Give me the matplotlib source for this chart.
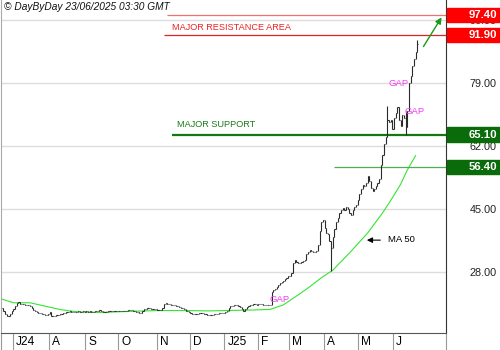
import numpy as np
import pandas as pd
import matplotlib
matplotlib.use('Agg')
import matplotlib.pyplot as plt
from matplotlib.patches import Rectangle
from matplotlib.transforms import blended_transform_factory

plt.rcParams['font.family'] = ['Liberation Sans', 'DejaVu Sans']

# exchange holidays inside the window
holidays = ['2024-07-04', '2024-09-02', '2024-11-28', '2024-12-25', '2025-01-01',
            '2025-01-09', '2025-01-20', '2025-02-17', '2025-04-18', '2025-05-26',
            '2025-06-19']

# daily closes, month by month
closes_jun24 = [18.3, 17.6, 16.8, 16.2, 16.1, 16.6, 17.4]
closes_jul24 = [18.0, 18.7, 19.6, 19.8, 19.5, 19.4, 19.3, 19.2, 19.1, 19.1, 18.7,
                18.3, 17.8, 17.5, 17.1, 16.9, 16.9, 16.8, 16.6, 16.4, 16.5, 16.8]
closes_aug24 = [17.3, 16.0, 16.1, 16.2, 16.3, 16.5, 16.6, 16.8, 16.9, 17.0, 17.1,
                17.3, 17.4, 17.3, 17.2, 17.3, 17.2, 17.4, 17.2, 17.3, 17.4, 17.3]
closes_sep24 = [17.4, 17.3, 17.5, 17.3, 17.2, 17.4, 17.6, 17.5, 17.7, 17.4,
                17.3, 17.2, 17.3, 17.4, 17.5, 17.6, 17.4, 17.5, 17.6, 17.5]
closes_oct24 = [17.4, 17.4, 17.5, 17.6, 17.6, 17.7, 17.7, 17.8, 17.6, 17.4, 17.2, 17.1,
                17.0, 17.0, 17.4, 17.9, 18.0, 18.2, 18.2, 18.1, 18.0, 17.9, 17.9]
closes_nov24 = [17.8, 17.8, 17.7, 18.4, 19.3, 19.6, 19.5, 19.3, 19.1, 19.2,
                19.0, 18.8, 18.9, 18.6, 18.4, 18.2, 17.9, 17.6, 17.4, 17.2]
closes_dec24 = [16.9, 16.8, 16.7, 16.7, 16.8, 16.9, 17.0, 16.9, 16.7, 16.6, 16.5,
                16.4, 16.4, 16.5, 16.6, 16.7, 16.8, 16.9, 16.9, 17.0, 17.0]
closes_jan25 = [17.1, 17.5, 18.2, 18.8, 18.9, 19.1, 19.2, 19.0, 18.8, 18.6,
                18.0, 17.6, 18.1, 18.6, 18.8, 19.0, 19.1, 19.3, 19.3, 19.2]
closes_feb25 = [19.3, 19.4, 19.3, 19.2, 19.1, 19.2, 19.1, 19.2, 22.6, 23.1,
                23.5, 24.0, 24.5, 25.0, 25.3, 25.6, 26.0, 26.4, 26.8]
closes_mar25 = [27.0, 27.6, 30.3, 31.2, 30.8, 30.3, 30.5, 30.8, 31.0, 31.3, 32.8,
                33.3, 33.9, 33.7, 33.5, 33.4, 33.6, 35.3, 39.0, 41.5, 42.0]
closes_apr25 = [40.0, 38.5, 38.2, 36.5, 34.5, 37.5, 39.5, 41.5, 42.5, 44.0, 44.7,
                45.2, 44.6, 45.6, 44.9, 43.8, 43.5, 44.6, 45.6, 46.0, 47.5]
closes_may25 = [49.0, 50.5, 51.5, 51.2, 52.0, 54.0, 52.5, 50.8, 49.8, 50.5, 51.2,
                52.0, 53.0, 57.0, 59.5, 62.5, 64.5, 69.0, 68.5, 69.0, 66.5]
closes_jun25 = [69.5, 71.0, 72.5, 69.0, 67.5, 70.5, 69.5, 67.0, 71.5, 79.0,
                81.0, 83.5, 85.5, 87.5, 89.5]

# intraday extremes on the bars with long wicks
wick_idx = [199, 233, 244, 251]
wick_low = [28.2, 65.5, 65.1, 88.5]
wick_high = [36.0, 72.9, 71.5, 90.6]

# 50 day moving average
ma_idx = [0, 7, 17, 23, 29, 35, 41, 47, 60, 78, 95, 111, 125, 135, 152, 162,
          170, 180, 186, 192, 200, 210, 221, 230, 236, 241, 245, 250]
ma_val = [20.7, 19.7, 19.7, 19.1, 18.5, 17.9, 17.5, 17.2, 17.1, 17.4, 17.6, 17.6,
          17.5, 17.6, 17.75, 17.9, 19.1, 22.1, 24.0, 26.1, 28.5, 33.1, 38.5, 43.9,
          48.0, 51.7, 55.5, 59.4]

month_labels = ['J24', 'A', 'S', 'O', 'N', 'D', 'J25', 'F', 'M', 'A', 'M', 'J']
price_ticks = [28, 45, 62, 79, 96]

resistance_hi = 97.40
resistance_lo = 91.90
support_major = 65.10
support_minor = 56.40

closes = np.array(closes_jun24 + closes_jul24 + closes_aug24 + closes_sep24 +
                  closes_oct24 + closes_nov24 + closes_dec24 + closes_jan25 +
                  closes_feb25 + closes_mar25 + closes_apr25 + closes_may25 +
                  closes_jun25)
dates = pd.bdate_range('2024-06-20', '2025-06-23', freq='C', holidays=holidays)
x = np.arange(len(closes))

fig = plt.figure(figsize=(5, 3.5), dpi=100)
ax = fig.add_axes([1 / 500, 17 / 350, 445 / 500, 333 / 350])
x_right = 268.4
ax.set_xlim(-0.5, x_right)
ax.set_ylim(11.54, 101.4)

# price bars: previous close to close, with the recorded wicks
prev = np.r_[closes[0], closes[:-1]]
lo = np.minimum(prev, closes)
hi = np.maximum(prev, closes)
for i, l, h in zip(wick_idx, wick_low, wick_high):
    lo[i] = min(lo[i], l)
    hi[i] = max(hi[i], h)
ax.vlines(x, lo, hi, color='#2a2a2a', lw=0.8, zorder=3)
ax.hlines(closes, x, x + 0.7, color='#2a2a2a', lw=0.8, zorder=3)

ax.plot(ma_idx, ma_val, color='#33e633', lw=0.8, zorder=2)

# resistance / support levels
ax.hlines(resistance_hi, 100, x_right, color='#f07070', lw=0.9, zorder=2)
ax.hlines(resistance_lo, 98, x_right, color='#dd2222', lw=0.9, zorder=2)
ax.hlines(support_major, 103, x_right, color='#107a10', lw=1.6, zorder=2)
ax.hlines(support_minor, 201, x_right, color='#55aa55', lw=0.9, zorder=2)

ax.text(103, 94.1, 'MAJOR RESISTANCE AREA', color='#ee2222', fontsize=6.6, va='center')
ax.text(106, 67.9, 'MAJOR SUPPORT', color='#1a7a1a', fontsize=6.6, va='center')

gap_color = '#f23cf2'
ax.text(162, 20.45, 'GAP', color=gap_color, fontsize=6.8, va='center')
ax.text(233.5, 79.0, 'GAP', color=gap_color, fontsize=6.8, va='center')
ax.text(243.5, 71.2, 'GAP', color=gap_color, fontsize=6.8, va='center')

ax.annotate('', xy=(266.6, 97.35), xytext=(253.9, 88.2),
            arrowprops=dict(arrowstyle='-|>', color='#1a9a1a', lw=1, mutation_scale=9))
ax.annotate('', xy=(218.9, 36.6), xytext=(230.4, 36.6),
            arrowprops=dict(arrowstyle='-|>', color='black', lw=0.8, mutation_scale=8))
ax.text(233.4, 36.9, 'MA 50', fontsize=6.8, va='center')

# grid and axes frame
ax.set_yticks(price_ticks)
ax.set_yticklabels([f'{t:.2f}' for t in price_ticks])
ax.yaxis.tick_right()
ax.tick_params(axis='y', length=0, pad=36.7, labelsize=7.8, labelcolor='#222222')
for lab in ax.get_yticklabels():
    lab.set_horizontalalignment('right')
ax.yaxis.grid(True, color='#dddddd', lw=1)
ax.set_axisbelow(True)

ax.spines['top'].set_visible(False)
ax.spines['left'].set_color('#aaaaaa')
ax.spines['right'].set_color('#333333')
ax.spines['bottom'].set_color('#555555')

# month strip under the chart
month_start = [i for i in range(1, len(dates)) if dates[i].month != dates[i - 1].month]
ax.set_xticks([-0.5] + [i - 0.5 for i in month_start] + [x_right])
ax.set_xticklabels([])
ax.tick_params(axis='x', length=12.3, width=0.8, color='#999999', direction='out')
xt = ax.get_xaxis_transform()
for i, lab in zip(month_start, month_labels):
    ax.annotate(lab, xy=(i - 0.5, 0), xycoords=xt, xytext=(3, -9),
                textcoords='offset pixels', ha='left', va='center', fontsize=8.6)

# value boxes on the right edge
bt = blended_transform_factory(ax.transAxes, ax.transData)
for value, face in [(resistance_hi, '#ff0000'), (resistance_lo, '#ff0000'),
                    (support_major, '#0a6b0a'), (support_minor, '#0a6b0a')]:
    ax.add_patch(Rectangle((1.002, value - 1.9), 0.12, 3.8, transform=bt,
                           facecolor=face, edgecolor=face, clip_on=False, zorder=6))
    ax.annotate(f'{value:.2f}', xy=(1, value), xycoords=bt, xytext=(51, 0),
                textcoords='offset pixels', ha='right', va='center', color='white',
                fontsize=8.2, fontweight='bold', zorder=7)

fig.text(4 / 500, 1 - 7 / 350, '\u00a9 DayByDay 23/06/2025 03:30 GMT',
         style='italic', fontsize=7.3, va='center', ha='left', color='#111111')

fig.savefig('out.png', dpi=100)
